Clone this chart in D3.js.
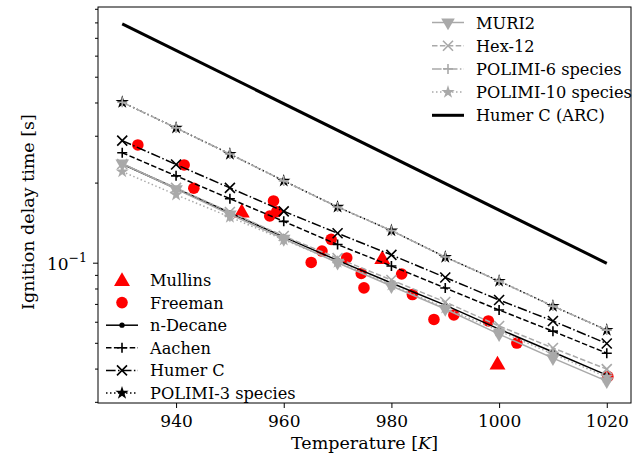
<!DOCTYPE html>
<html lang="en">
<head>
    <meta charset="UTF-8">
    <title>Ignition delay time</title>
    <style>
        body { margin: 0; background: #fff; }
        svg text { font-family: 'DejaVu Serif', serif; fill: #000; }
    </style>
    <script src="https://d3js.org/d3.v7.min.js"></script>
</head>
<body>
    <svg width="636" height="456"></svg>
    <script>
        // model temperatures [K]
        const temps = [930, 940, 950, 960, 970, 980, 990, 1000, 1010, 1020];

        // ignition delay times [s]
        const nDecane  = [0.235, 0.190, 0.154, 0.125, 0.102, 0.0839, 0.0693, 0.0563, 0.0462, 0.0378];
        const aachen   = [0.259, 0.212, 0.174, 0.143, 0.117, 0.0972, 0.0803, 0.0664, 0.0553, 0.0457];
        const humerC   = [0.2875, 0.234, 0.191, 0.156, 0.129, 0.107, 0.0880, 0.0724, 0.0604, 0.0497];
        const polimi3  = [0.401, 0.321, 0.256, 0.203, 0.162, 0.132, 0.105, 0.0853, 0.0687, 0.0558];
        const muri2    = [0.236, 0.189, 0.152, 0.123, 0.100, 0.0817, 0.0670, 0.0539, 0.0438, 0.0359];
        const hex12    = [0.235, 0.191, 0.155, 0.126, 0.104, 0.0861, 0.0712, 0.0578, 0.0478, 0.0398];
        const polimi6  = [0.401, 0.321, 0.256, 0.203, 0.162, 0.132, 0.105, 0.0853, 0.0687, 0.0558];
        const polimi10 = [0.220, 0.180, 0.1485, 0.122, 0.1006, 0.0825, 0.0676, 0.0554, 0.0454, 0.0372];

        // Humer C (ARC) is a straight line, only its ends
        const arcT   = [930, 1020];
        const arcTau = [0.790, 0.0995];

        // experiments
        const mullinsT   = [952.2, 978.3, 999.7];
        const mullinsTau = [0.156, 0.1042, 0.0418];
        const freemanT   = [932.9, 941.5, 943.3, 958.1, 958.7, 957.4, 968.8, 967.1, 965.1, 971.7,
                            974.4, 974.9, 981.9, 983.9, 987.9, 991.6, 998.0, 1003.3, 1020.2];
        const freemanTau = [0.277, 0.233, 0.1905, 0.1706, 0.1555, 0.1498, 0.1224, 0.1106, 0.1002, 0.1042,
                            0.0911, 0.0804, 0.0907, 0.0759, 0.0612, 0.0636, 0.0604, 0.0499, 0.0373];

        const xTicks = [940, 960, 980, 1000, 1020];
        const yMinor = [0.03, 0.04, 0.05, 0.06, 0.07, 0.08, 0.09, 0.2, 0.3, 0.4, 0.5, 0.6, 0.7, 0.8, 0.9];

        const gray = "#a9a9a9";
        const mLeft = 98, mRight = 631, mTop = 7, mBottom = 403;

        const svg = d3.select("svg");

        const x = d3.scaleLinear().domain([925.5, 1024.5]).range([mLeft, mRight]);
        const y = d3.scaleLog().domain([0.0297, 0.914]).range([mBottom, mTop]);

        // marker paths
        const plusPath = s => `M${-s},0H${s}M0,${-s}V${s}`;
        const xPath = s => `M${-s},${-s}L${s},${s}M${-s},${s}L${s},${-s}`;
        const star = d3.symbol(d3.symbolStar, 55)();
        const triDown = d3.symbol(d3.symbolTriangle, 80)();
        const triUp = d3.symbol(d3.symbolTriangle, 110)();
        const dot = d3.symbol(d3.symbolCircle, 22)();

        function drawMarker(g, type, color) {
            if (type === "plus") g.append("path").attr("d", plusPath(5)).attr("stroke", color).attr("stroke-width", 1.6).attr("fill", "none");
            else if (type === "x") g.append("path").attr("d", xPath(5)).attr("stroke", color).attr("stroke-width", 1.6).attr("fill", "none");
            else if (type === "star") g.append("path").attr("d", star).attr("fill", color);
            else if (type === "tri") g.append("path").attr("d", triDown).attr("transform", "rotate(180)").attr("fill", color);
            else if (type === "dot") g.append("path").attr("d", dot).attr("fill", color);
            else if (type === "up") g.append("path").attr("d", triUp).attr("transform", "translate(0,1.5)").attr("fill", color);
            else if (type === "circle") g.append("circle").attr("r", 5.8).attr("fill", color);
        }

        const models = [
            { name: "n-Decane", vals: nDecane, color: "#000", dash: null, marker: "dot" },
            { name: "Aachen", vals: aachen, color: "#000", dash: "5.5,2.4", marker: "plus" },
            { name: "Humer C", vals: humerC, color: "#000", dash: "9.6,2.4,1.5,2.4", marker: "x" },
            { name: "POLIMI-3 species", vals: polimi3, color: "#000", dash: "1.5,2.5", marker: "star" },
            { name: "MURI2", vals: muri2, color: gray, dash: null, marker: "tri" },
            { name: "Hex-12", vals: hex12, color: gray, dash: "5.5,2.4", marker: "x" },
            { name: "POLIMI-6 species", vals: polimi6, color: gray, dash: "9.6,2.4,1.5,2.4", marker: "plus" },
            { name: "POLIMI-10 species", vals: polimi10, color: gray, dash: "1.5,2.5", marker: "star" }
        ];

        const plot = svg.append("g");

        // experiments first, model lines over them
        freemanT.forEach((t, i) => {
            drawMarker(plot.append("g").attr("transform", `translate(${x(t)},${y(freemanTau[i])})`), "circle", "red");
        });
        mullinsT.forEach((t, i) => {
            drawMarker(plot.append("g").attr("transform", `translate(${x(t)},${y(mullinsTau[i])})`), "up", "red");
        });

        const line = d3.line().x(d => x(d[0])).y(d => y(d[1]));

        models.forEach(m => {
            const pts = temps.map((t, i) => [t, m.vals[i]]);
            plot.append("path")
                .attr("d", line(pts))
                .attr("fill", "none")
                .attr("stroke", m.color)
                .attr("stroke-width", 1.5)
                .attr("stroke-dasharray", m.dash);
            pts.forEach(p => {
                drawMarker(plot.append("g").attr("transform", `translate(${x(p[0])},${y(p[1])})`), m.marker, m.color);
            });
        });

        plot.append("path")
            .attr("d", line(arcT.map((t, i) => [t, arcTau[i]])))
            .attr("fill", "none")
            .attr("stroke", "#000")
            .attr("stroke-width", 3);

        // axes
        svg.append("g")
            .attr("transform", `translate(0,${mBottom})`)
            .call(d3.axisBottom(x).tickValues(xTicks).tickSize(5).tickPadding(7).tickFormat(d3.format("d")))
            .call(g => g.select(".domain").remove())
            .selectAll("text")
            .style("font-family", "'DejaVu Serif', serif")
            .style("font-size", "17px")
            .attr("fill", "#000");

        svg.append("g")
            .attr("transform", `translate(${mLeft},0)`)
            .call(d3.axisLeft(y).tickValues(yMinor).tickSize(3).tickFormat(""))
            .call(g => g.select(".domain").remove());

        svg.append("g")
            .attr("transform", `translate(${mLeft},0)`)
            .call(d3.axisLeft(y).tickValues([0.1]).tickSize(5).tickFormat(""))
            .call(g => g.select(".domain").remove());

        const yl = svg.append("text")
            .attr("x", mLeft - 11)
            .attr("y", y(0.1) + 7)
            .attr("text-anchor", "end")
            .style("font-size", "17px");
        yl.append("tspan").text("10");
        yl.append("tspan").attr("dy", -8).style("font-size", "12.5px").text("\u22121");

        svg.append("rect")
            .attr("x", mLeft).attr("y", mTop)
            .attr("width", mRight - mLeft).attr("height", mBottom - mTop)
            .attr("fill", "none").attr("stroke", "#000").attr("stroke-width", 1);

        // axis labels
        const xl = svg.append("text")
            .attr("x", (mLeft + mRight) / 2)
            .attr("y", 449)
            .attr("text-anchor", "middle")
            .style("font-size", "17.5px");
        xl.append("tspan").text("Temperature [");
        xl.append("tspan").style("font-style", "italic").text("K");
        xl.append("tspan").text("]");

        svg.append("text")
            .attr("transform", `translate(34,212) rotate(-90)`)
            .attr("text-anchor", "middle")
            .style("font-size", "17.5px")
            .text("Ignition delay time [s]");

        // legends
        function legendRow(lx, ly, item) {
            const g = svg.append("g").attr("transform", `translate(${lx},${ly})`);
            if (item.line) {
                g.append("line").attr("x1", 0).attr("x2", 32).attr("y1", 0).attr("y2", 0)
                    .attr("stroke", item.color).attr("stroke-width", item.width || 1.5)
                    .attr("stroke-dasharray", item.dash);
            }
            if (item.marker) drawMarker(g.append("g").attr("transform", "translate(16,0)"), item.marker, item.color);
            g.append("text").attr("x", 44).attr("y", 6).style("font-size", "16.2px").text(item.name);
        }

        const legendA = [
            { name: "Mullins", marker: "up", color: "red" },
            { name: "Freeman", marker: "circle", color: "red" }
        ].concat(models.slice(0, 4).map(m => ({ name: m.name, marker: m.marker, color: m.color, dash: m.dash, line: true })));
        legendA.forEach((it, i) => legendRow(106, 280 + i * 22.6, it));

        const legendB = models.slice(4).map(m => ({ name: m.name, marker: m.marker, color: m.color, dash: m.dash, line: true }))
            .concat([{ name: "Humer C (ARC)", color: "#000", line: true, width: 3 }]);
        legendB.forEach((it, i) => legendRow(432, 22.5 + i * 23.2, it));
    </script>
</body>
</html>
